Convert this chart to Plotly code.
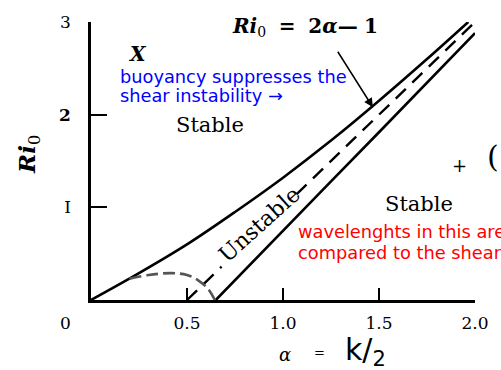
import plotly.graph_objects as go

# ---- data ----
alpha_upper = [0, 0.25, 0.5, 0.75, 1.0, 1.25, 1.5, 1.75, 1.965]
ri_upper = [0, 0.29, 0.6, 0.95, 1.32, 1.72, 2.15, 2.6, 3.0]

alpha_lower = [0.65, 1.0, 1.25, 1.5, 1.75, 2.0]
ri_lower = [0, 0.74, 1.28, 1.81, 2.35, 2.88]

# Ri0 = 2*alpha - 1 (dashed), interrupted where the "Unstable" label sits
alpha_asym = [0.5, 0.68, None, 1.07, 2.0]
ri_asym = [0.0, 0.36, None, 1.14, 3.0]

alpha_arc = [0.2, 0.3, 0.42, 0.5, 0.56, 0.61, 0.645]
ri_arc = [0.23, 0.27, 0.29, 0.27, 0.21, 0.12, 0.0]

x_tickvals = [0, 0.5, 1.0, 1.5, 2.0]
x_ticktext = ["0\u2003\u2003\u2003", "0.5", "1.0", "1.5", "2.0"]
y_tickvals = [1, 2, 3]
y_ticktext = ["I", "<b>2</b>", "3"]

SERIF = "DejaVu Serif, Liberation Serif, serif"
SANS = "DejaVu Sans, Liberation Sans, sans-serif"


def ri_at(py):
    return (300 - py) / 95.3


fig = go.Figure()
fig.add_trace(go.Scatter(x=alpha_upper, y=ri_upper, mode="lines",
                         line=dict(color="black", width=2.6, shape="spline"),
                         hoverinfo="skip", showlegend=False))
fig.add_trace(go.Scatter(x=alpha_lower, y=ri_lower, mode="lines",
                         line=dict(color="black", width=2.6),
                         hoverinfo="skip", showlegend=False))
fig.add_trace(go.Scatter(x=alpha_asym, y=ri_asym, mode="lines", connectgaps=False,
                         line=dict(color="black", width=2.4, dash="14px,9px"),
                         hoverinfo="skip", showlegend=False))
fig.add_trace(go.Scatter(x=alpha_arc, y=ri_arc, mode="lines",
                         line=dict(color="#555555", width=2.6, dash="12px,5px", shape="spline"),
                         hoverinfo="skip", showlegend=False))

TXT = 17.8
annotations = [
    dict(x=1.115, y=2.95, xref="x", yref="y", showarrow=False,
         text="<b><i>Ri</i></b><sub>0</sub>  <b>=</b>  <b>2<i>α</i>—</b> <b>1</b>",
         font=dict(family=SERIF, size=20, color="black")),
    dict(x=1.468, y=2.08, xref="x", yref="y", ax=-36, ay=-57,
         showarrow=True, arrowhead=2, arrowsize=1.2, arrowwidth=1.5,
         arrowcolor="black", text=""),
    dict(x=0.619, y=1.89, xref="x", yref="y", showarrow=False, text="Stable",
         font=dict(family=SERIF, size=21, color="black")),
    dict(x=1.71, y=1.04, xref="x", yref="y", showarrow=False, text="Stable",
         font=dict(family=SERIF, size=21, color="black")),
    dict(x=0.875, y=0.82, xref="x", yref="y", showarrow=False, text="Unstable",
         textangle=-42, font=dict(family=SERIF, size=22, color="black")),
    dict(x=0.138, y=ri_at(70), xref="x", yref="y", showarrow=False,
         xanchor="left", yanchor="middle", text="buoyancy suppresses the",
         font=dict(family=SANS, size=TXT, color="#0000ff")),
    dict(x=0.138, y=ri_at(90), xref="x", yref="y", showarrow=False,
         xanchor="left", yanchor="middle", text="shear instability →",
         font=dict(family=SANS, size=TXT, color="#0000ff")),
    dict(x=1.07, y=ri_at(230), xref="x", yref="y", showarrow=False,
         xanchor="left", yanchor="middle", text="wavelenghts in this area are too long",
         font=dict(family=SANS, size=TXT, color="#ff0000")),
    dict(x=1.07, y=ri_at(251), xref="x", yref="y", showarrow=False,
         xanchor="left", yanchor="middle", text="compared to the shear layer thickness",
         font=dict(family=SANS, size=TXT, color="#ff0000")),
    dict(x=1.01, y=-0.196, xref="x", yref="paper", showarrow=False,
         xanchor="center", yanchor="middle", text="<i>α</i>",
         font=dict(family=SERIF, size=18, color="black")),
    dict(x=1.19, y=-0.19, xref="x", yref="paper", showarrow=False,
         xanchor="center", yanchor="middle", text="=",
         font=dict(family=SERIF, size=13, color="black")),
    dict(x=1.43, y=-0.185, xref="x", yref="paper", showarrow=False,
         xanchor="center", yanchor="middle", text="k/<sub>2</sub>",
         font=dict(family=SANS, size=30, color="black")),
    dict(x=-0.163, y=1.57, xref="paper", yref="y", showarrow=False,
         xanchor="center", yanchor="middle",
         text="<b><i>Ri</i></b><sub>0</sub>", textangle=-90,
         font=dict(family=SERIF, size=23, color="black")),
    dict(x=0.24, y=2.66, xref="x", yref="y", showarrow=False, text="<b><i>X</i></b>",
         font=dict(family=SERIF, size=20, color="black")),
    dict(x=1.92, y=1.45, xref="x", yref="y", showarrow=False,
         text="+", font=dict(family=SERIF, size=18, color="black")),
    dict(x=(500 - 91) / 391, y=1.55, xref="paper", yref="y", showarrow=False,
         xanchor="center", text="(", font=dict(family=SERIF, size=30, color="black")),
]

fig.update_layout(
    width=501, height=370,
    margin=dict(l=91, r=19, t=14, b=70),
    paper_bgcolor="white", plot_bgcolor="white",
    annotations=annotations,
    xaxis=dict(range=[0, 2], showgrid=False, zeroline=False,
               showline=True, linecolor="black", linewidth=2.5,
               ticks="inside", ticklen=12, tickwidth=2, tickcolor="black",
               tickvals=x_tickvals, ticktext=x_ticktext,
               ticklabelstandoff=6,
               tickfont=dict(family=SERIF, size=17, color="black")),
    yaxis=dict(range=[0, 3], showgrid=False, zeroline=False,
               showline=True, linecolor="black", linewidth=2.5,
               ticks="inside", ticklen=16, tickwidth=2, tickcolor="black",
               tickvals=y_tickvals, ticktext=y_ticktext,
               ticklabelstandoff=14,
               tickfont=dict(family=SERIF, size=17, color="black")),
)

fig.write_html("out.html")
